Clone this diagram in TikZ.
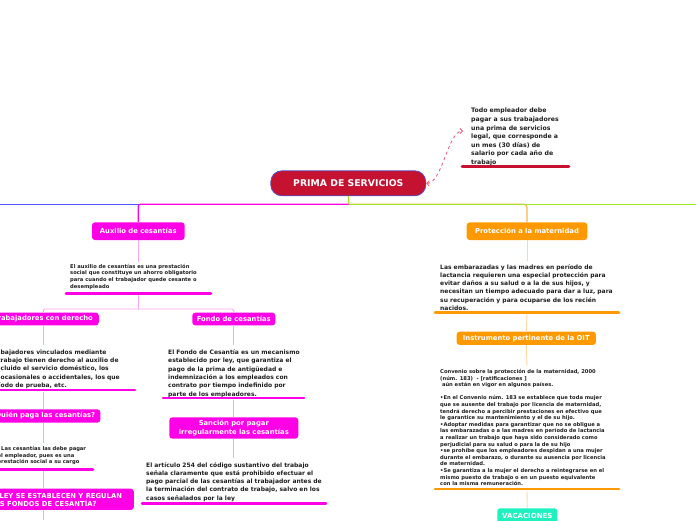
\documentclass[tikz,border=0pt]{standalone}
\usepackage{fontspec}
\setmainfont{DejaVu Sans}
\usetikzlibrary{arrows.meta}
\definecolor{crim}{RGB}{196,18,48}
\definecolor{mainbd}{RGB}{85,80,200}
\definecolor{mag}{RGB}{255,0,230}
\definecolor{lmag}{RGB}{255,165,245}
\definecolor{org}{RGB}{255,153,0}
\definecolor{morg}{RGB}{255,180,80}
\definecolor{lorg}{RGB}{255,215,165}
\definecolor{tealc}{RGB}{30,240,190}
\definecolor{blueln}{RGB}{80,80,255}
\definecolor{greenln}{RGB}{160,230,40}
\definecolor{dashc}{RGB}{225,90,120}
\definecolor{txtc}{RGB}{30,30,30}
\begin{document}
\begin{tikzpicture}[x=1pt,y=-1pt,
  topic/.style={rounded corners=3pt, inner sep=0pt, text=white, align=center,
    font=\bfseries\fontsize{6.8}{8.2}\selectfont},
  magbox/.style={topic, fill=mag},
  orgbox/.style={topic, fill=org},
  mainnode/.style={draw=mainbd, fill=crim, rounded corners=11pt, line width=0.8pt,
    minimum width=155pt, minimum height=25pt, inner sep=0pt, text=white,
    font=\bfseries\fontsize{9.3}{11}\selectfont},
  txt/.style={anchor=north west, inner sep=0pt, align=left, text=txtc,
    font=\bfseries\fontsize{6.0}{8.3}\selectfont},
  notetxt/.style={txt, font=\bfseries\fontsize{6.2}{8.6}\selectfont},
  smalltxt/.style={txt, font=\bfseries\fontsize{5.2}{6.6}\selectfont},
  uline/.style={line width=2.6pt, line cap=round},
  hubline/.style={line width=1.2pt},
  conn/.style={line width=0.9pt}
]
\useasboundingbox (0,0) rectangle (696,520);
\clip (0,0) rectangle (696,520);

% ---------- central node and note ----------
\node[mainnode] (main) at (348.3,183.3) {PRIMA DE SERVICIOS};
\node[notetxt] (note) at (471,108) {Todo empleador debe\\pagar a sus trabajadores\\una prima de servicios\\legal, que corresponde a\\un mes (30 días) de\\salario por cada año de\\trabajo};
\coordinate (noteIn) at (463,131);
\draw[crim, uline] (462,166.7) -- (569,166.7);
\draw[dashc, dashed, line width=0.8pt, {Straight Barb[length=2.5pt,width=5pt]}-{Straight Barb[length=2.5pt,width=5pt]}]
  (main.east) .. controls (442,184) and (448,131) .. (noteIn);

% ---------- hub lines ----------
\coordinate (hub) at (349,204.3);
\coordinate (westend) at (0,204.3);
\coordinate (eastend) at (696,204.3);

% ---------- left branch nodes ----------
\node[magbox, minimum width=92.6pt, minimum height=17.7pt] (aux) at (138.3,231.2) {Auxilio de cesantías};
\node[smalltxt] (auxtxt) at (70,264) {El auxilio de cesantías es una prestación\\social que constituye un ahorro obligatorio\\para cuando el trabajador quede cesante o\\desempleado};
\draw[mag, uline] (66,293.3) -- (211,293.3);

\node[magbox, minimum width=111pt, minimum height=12.7pt] (trab) at (43.3,319) {Trabajadores con derecho};
\node[magbox, minimum width=83pt, minimum height=12.7pt] (fondo) at (233.8,319) {Fondo de cesantías};

\node[txt] (trabtxt) at (0.5,349.5) {\llap{Los tra}bajadores vinculados mediante\\\llap{contrato de t}rabajo tienen derecho al auxilio de\\\llap{cesantías, in}cluido el servicio doméstico, los\\\llap{trabajadores }ocasionales o accidentales, los que\\\llap{están en perí}odo de prueba, etc.};
\draw[mag, uline] (-5,390) -- (135,390);

\node[magbox, minimum width=114pt, minimum height=13.4pt] (quien) at (43.3,416) {¿Quién paga las cesantías?};
\node[smalltxt] (quientxt) at (1,446.3) {Las cesantías las debe pagar\\\llap{e}l empleador, pues es una\\\llap{p}restación social a su cargo};
\draw[mag, uline] (-5,469.7) -- (93,469.7);

\node[magbox, minimum width=181pt, minimum height=21.3pt] (enque) at (43.3,499.3) {¿EN QUÉ LEY SE ESTABLECEN Y REGULAN\\LOS FONDOS DE CESANTÍA?};

\node[txt] (fondotxt) at (168,349.5) {El Fondo de Cesantía es un mecanismo\\establecido por ley, que garantiza el\\pago de la prima de antigüedad e\\indemnización a los empleados con\\contrato por tiempo indefinido por\\parte de los empleadores.};
\draw[mag, uline] (163,398) -- (304,398);

\node[magbox, minimum width=129pt, minimum height=21.3pt] (sancion) at (233.8,428) {Sanción por pagar\\irregularmente las cesantías};
\node[txt] (sanciontxt) at (146,462) {El artículo 254 del código sustantivo del trabajo\\señala claramente que está prohibido efectuar el\\pago parcial de las cesantías al trabajador antes de\\la terminación del contrato de trabajo, salvo en los\\casos señalados por la ley};
\draw[mag, uline] (142,503.7) -- (326,503.7);

% ---------- right branch nodes ----------
\node[orgbox, minimum width=120.6pt, minimum height=17.7pt] (prot) at (527,231.2) {Protección a la maternidad};
\node[txt] (prottxt) at (440,264) {Las embarazadas y las madres en período de\\lactancia requieren una especial protección para\\evitar daños a su salud o a la de sus hijos, y\\necesitan un tiempo adecuado para dar a luz, para\\su recuperación y para ocuparse de los recién\\nacidos.};
\draw[org, uline] (435,312.7) -- (619,312.7);

\node[orgbox, minimum width=139.3pt, minimum height=13.3pt] (instr) at (526.3,338.3) {Instrumento pertinente de la OIT};
\node[smalltxt] (instrtxt) at (440,369.3) {Convenio sobre la protección de la maternidad, 2000\\(núm. 183)\ \ - [ratificaciones ]\\\ aún están en vigor en algunos países.\\[6.5pt]•En el Convenio núm. 183 se establece que toda mujer\\que se ausente del trabajo por licencia de maternidad,\\tendrá derecho a percibir prestaciones en efectivo que\\le garantice su mantenimiento y el de su hijo.\\•Adoptar medidas para garantizar que no se obligue a\\las embarazadas o a las madres en período de lactancia\\a realizar un trabajo que haya sido considerado como\\perjudicial para su salud o para la de su hijo\\•se prohíbe que los empleadores despidan a una mujer\\durante el embarazo, o durante su ausencia por licencia\\de maternidad.\\•Se garantiza a la mujer el derecho a reintegrarse en el\\mismo puesto de trabajo o en un puesto equivalente\\con la misma remuneración.};
\draw[org, uline] (435,489) -- (619,489);

\node[topic, fill=tealc, minimum width=60pt, minimum height=16pt, font=\bfseries\fontsize{7}{8}\selectfont] (vac) at (527.3,516.3) {VACACIONES};

% ---------- hub connectors ----------
\draw[blueln, hubline] (hub) -- (westend);
\draw[mag, hubline, rounded corners=2pt] (hub) -| (aux.north);
\draw[morg, hubline, rounded corners=3pt] (hub) -| (prot.north);
\draw[greenln, hubline] (hub) -- (eastend);
\draw[greenln, hubline] (main.south) -- (hub);

% ---------- left connectors ----------
\coordinate (auxIn) at (138.3,262);
\coordinate (auxul) at (138.3,295);
\coordinate (fork) at (138.3,309);
\draw[lmag, conn] (aux.south) -- (auxIn);
\draw[lmag, conn] (auxul) -- (fork);
\draw[lmag, conn, rounded corners=1.5pt] (fork) -| (trab.north);
\draw[lmag, conn, rounded corners=1.5pt] (fork) -| (fondo.north);

\coordinate (trabIn) at (43.3,345);
\coordinate (trabul) at (43.3,391.5);
\coordinate (quienIn) at (43.3,443);
\coordinate (quienul) at (43.3,471);
\coordinate (bottomL) at (43.3,520);
\draw[lmag, conn] (trab.south) -- (trabIn);
\draw[lmag, conn] (trabul) -- (quien.north);
\draw[lmag, conn] (quien.south) -- (quienIn);
\draw[lmag, conn] (quienul) -- (enque.north);
\draw[lmag, conn] (enque.south) -- (bottomL);

\coordinate (fondoIn) at (233.8,345);
\coordinate (fondoul) at (233.8,399.5);
\coordinate (sancionIn) at (233.8,458);
\draw[lmag, conn] (fondo.south) -- (fondoIn);
\draw[lmag, conn] (fondoul) -- (sancion.north);
\draw[lmag, conn] (sancion.south) -- (sancionIn);

% ---------- right connectors ----------
\coordinate (protIn) at (527,261);
\coordinate (protul) at (527,314);
\coordinate (instrIn) at (527,366);
\coordinate (instrul) at (527,490.5);
\draw[lorg, conn] (prot.south) -- (protIn);
\draw[lorg, conn] (protul) -- (instr.north);
\draw[lorg, conn] (instr.south) -- (instrIn);
\draw[lorg, conn] (instrul) -- (vac.north);
\end{tikzpicture}
\end{document}
